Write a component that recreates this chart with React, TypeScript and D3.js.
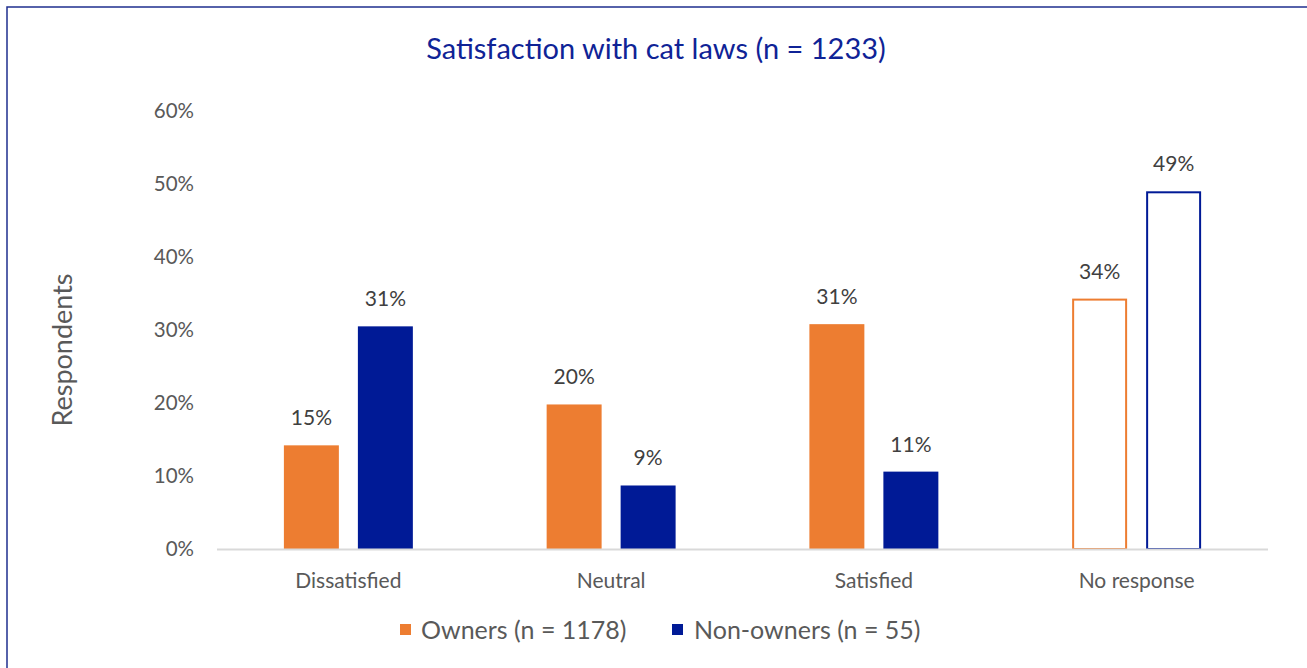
import React from "react"
import * as d3 from "d3"

const categories = ["Dissatisfied", "Neutral", "Satisfied", "No response"]
const seriesNames = ["Owners (n = 1178)", "Non-owners (n = 55)"]
const ownersValues = [14.2, 19.8, 30.8, 34.3]
const nonOwnersValues = [30.5, 8.7, 10.6, 49.0]
const ownersLabels = ["15%", "20%", "31%", "34%"]
const nonOwnersLabels = ["31%", "9%", "11%", "49%"]
const yTicks = [0, 10, 20, 30, 40, 50, 60]
const outlinedCategory = "No response"

const ORANGE = "#ED7D31"
const BLUE = "#001A96"
const TITLE_BLUE = "#0F2396"
const GREY_TEXT = "#595959"
const FONT = "Lato, 'Open Sans', sans-serif"

const W = 1307
const H = 668
const margin = { top: 111, bottom: 119, left: 217, right: 39 }

const App: React.FC = () => {
  const x = d3.scaleBand<string>()
    .domain(categories)
    .range([margin.left, W - margin.right])

  const y = d3.scaleLinear()
    .domain([0, 60])
    .range([H - margin.bottom, margin.top])

  const inner = d3.scaleBand<number>()
    .domain([0, 1])
    .range([0, x.bandwidth()])
    .paddingInner(0.257)
    .paddingOuter(0.904)

  const series = [
    { name: seriesNames[0], values: ownersValues, labels: ownersLabels, color: ORANGE },
    { name: seriesNames[1], values: nonOwnersValues, labels: nonOwnersLabels, color: BLUE },
  ]

  return (
    <svg width={W} height={H} style={{ position: "absolute", left: 0, top: 0, fontFamily: FONT }}>
      <rect x={0} y={0} width={W} height={H} fill="#fff" />
      <rect x={7} y={7} width={W + 10} height={H + 10} fill="#fff" stroke="#1F2F8F" strokeWidth={1.5} />

      <text x={656} y={59} textAnchor="middle" fontSize={29} fill={TITLE_BLUE}>
        Satisfaction with cat laws (n = 1233)
      </text>

      {/* y ticks */}
      {yTicks.map(t => (
        <text key={t} x={194} y={y(t) + 7} textAnchor="end" fontSize={20.5} fill={GREY_TEXT}>{t}%</text>
      ))}

      <text transform={`translate(72, 350) rotate(-90)`} textAnchor="middle" fontSize={27} fill={GREY_TEXT}>
        Respondents
      </text>

      {/* bars */}
      {series.map((s, si) => (
        <g key={s.name}>
          {categories.map((c, ci) => {
            const bx = (x(c) ?? 0) + (inner(si) ?? 0)
            const bw = inner.bandwidth()
            const by = y(s.values[ci])
            const bh = y(0) - by
            const outlined = c === outlinedCategory
            return (
              <g key={c}>
                {outlined ? (
                  <rect x={bx + 1} y={by + 1} width={bw - 2} height={bh - 1} fill="#fff" stroke={s.color} strokeWidth={2} />
                ) : (
                  <rect x={bx} y={by} width={bw} height={bh} fill={s.color} />
                )}
                <text x={bx + bw / 2} y={by - 20} textAnchor="middle" fontSize={21} fill="#404040">
                  {s.labels[ci]}
                </text>
              </g>
            )
          })}
        </g>
      ))}

      {/* x axis */}
      <line x1={margin.left} x2={W - margin.right} y1={y(0) + 0.5} y2={y(0) + 0.5} stroke="#D9D9D9" strokeWidth={2} />
      {categories.map(c => (
        <text key={c} x={(x(c) ?? 0) + x.bandwidth() / 2} y={588} textAnchor="middle" fontSize={21} fill={GREY_TEXT}>
          {c}
        </text>
      ))}

      {/* legend */}
      <g>
        <rect x={400} y={624} width={11} height={11} fill={ORANGE} />
        <text x={421} y={639} fontSize={25} fill={GREY_TEXT}>{seriesNames[0]}</text>
        <rect x={672} y={624} width={11} height={11} fill={BLUE} />
        <text x={694} y={639} fontSize={25} fill={GREY_TEXT}>{seriesNames[1]}</text>
      </g>
    </svg>
  )
}

export default App
